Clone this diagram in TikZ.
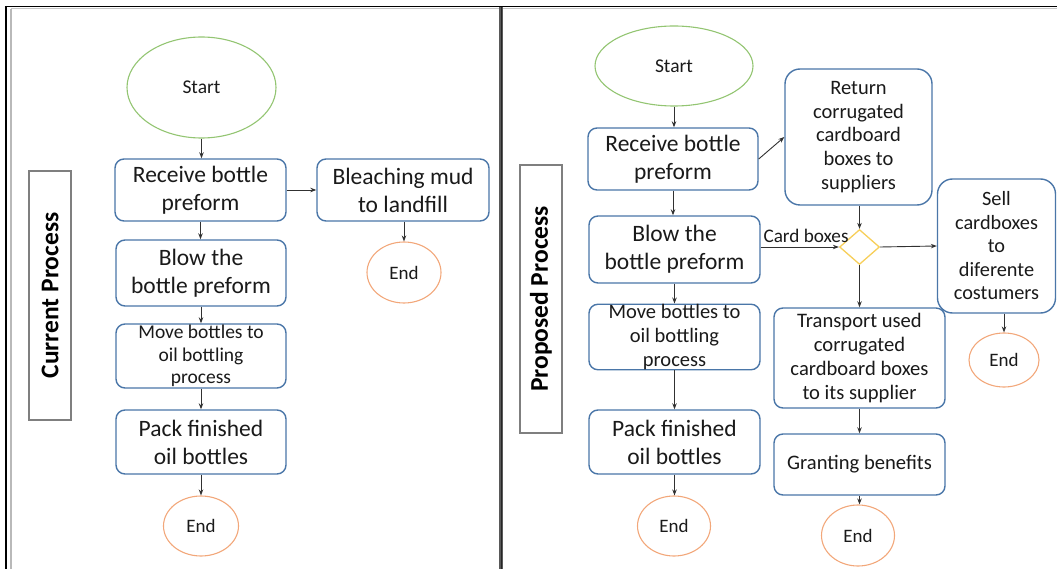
\documentclass[tikz,border=0pt]{standalone}
\usepackage{fontspec}
\setmainfont{Carlito}
\usetikzlibrary{shapes.geometric,arrows.meta}

\definecolor{boxblue}{HTML}{4A76A8}
\definecolor{startgreen}{HTML}{93C572}
\definecolor{endorange}{HTML}{F2A77A}
\definecolor{decyellow}{HTML}{F7CF5A}
\definecolor{tagframe}{HTML}{7F7F7F}
\definecolor{inkgrey}{HTML}{1A1A1A}

\tikzset{
  box/.style={draw=boxblue, line width=1.4pt, rounded corners=9pt, fill=white,
    inner sep=0pt, align=center, text=inkgrey,
    font=\fontsize{23.5}{28}\selectfont},
  tallbox/.style={box, rounded corners=15pt, font=\fontsize{20.5}{23.7}\selectfont},
  wh/.style 2 args={minimum width=#1, minimum height=#2},
  startnode/.style={ellipse, draw=startgreen, line width=1.1pt, inner sep=0pt,
    text=inkgrey, font=\fontsize{19.5}{23}\selectfont},
  endnode/.style={ellipse, draw=endorange, line width=1.1pt, inner sep=0pt,
    text=inkgrey, font=\fontsize{19}{23}\selectfont},
  decision/.style={diamond, draw=decyellow, line width=1.3pt, fill=white, inner sep=0pt},
  tag/.style={draw=tagframe, line width=1.3pt, inner sep=0pt},
  tagtext/.style={rotate=90, font=\fontsize{25.5}{30}\selectfont\bfseries, text=black},
  arr/.style={draw=inkgrey!90, line width=0.9pt, -{Stealth[length=6pt,width=4.5pt]}},
  edgelabel/.style={font=\fontsize{19.2}{22}\selectfont, text=inkgrey, inner sep=1pt}
}

\begin{document}
\begin{tikzpicture}[x=1pt, y=-1pt]
\useasboundingbox (0,0) rectangle (1057,569);

% page frame and panel divider
\draw[black, line width=1.8pt] (5.8,6) -- (5.8,569);
\draw[black, line width=1.8pt] (4.9,6.6) -- (1057,6.6);
\draw[gray!55, line width=1.4pt] (10.8,8.6) -- (10.8,569);
\draw[gray!45, line width=0.8pt] (10.8,8.6) -- (1057,8.6);
\draw[gray!70!black, line width=3.6pt] (501,7) -- (501,569);
\draw[black!85, line width=1pt] (501,7) -- (501,569);

% ---------- current process ----------
\node[tag, wh={42}{249}] (tagL) at (50,295.5) {};
\node[tagtext] (tagLt) at (tagL.center) {Current Process};

\node[startnode, wh={149}{101}] (startL) at (201.5,87.5) {Start};
\node[box, wh={171}{62}] (recvL) at (200.5,190) {Receive bottle\\preform};
\node[box, wh={172}{62}] (bleach) at (403,190) {Bleaching mud\\to landfill};
\node[box, wh={170}{66}] (blowL) at (201,273) {Blow the\\bottle preform};
\node[box, wh={170}{64}, font=\fontsize{19.5}{22.5}\selectfont] (moveL) at (201,356) {Move bottles to\\oil bottling\\process};
\node[box, wh={170}{64}] (packL) at (201,442) {Pack finished\\oil bottles};
\node[endnode, wh={75}{60}] (endL) at (201,526) {End};
\node[endnode, wh={74}{61}] (endB) at (404,272.5) {End};

\draw[arr] (startL.south) -- (startL.south |- recvL.north);
\draw[arr] (recvL.east) -- (bleach.west);
\draw[arr] (recvL.south) -- (recvL.south |- blowL.north);
\draw[arr] (blowL.south) -- (blowL.south |- moveL.north);
\draw[arr] (moveL.south) -- (moveL.south |- packL.north);
\draw[arr] (packL.south) -- (packL.south |- endL.north);
\draw[arr] (endB.north |- bleach.south) -- (endB.north);

% ---------- proposed process ----------
\node[tag, wh={42}{268}] (tagR) at (541,299) {};
\node[tagtext] (tagRt) at (tagR.center) {Proposed Process};

\node[startnode, wh={158}{80}] (startR) at (674,66) {Start};
\node[box, wh={170}{62}] (recvR) at (673,159) {Receive bottle\\preform};
\node[box, wh={171}{67}] (blowR) at (674.5,249.5) {Blow the\\bottle preform};
\node[box, wh={171}{64}, font=\fontsize{20.5}{24}\selectfont] (moveR) at (674.5,337) {Move bottles to\\oil bottling\\process};
\node[box, wh={171}{64}] (packR) at (674.5,442) {Pack finished\\oil bottles};
\node[endnode, wh={73}{60}] (endR) at (674,526) {End};

\node[tallbox, wh={147}{136}] (ret) at (858.5,137) {Return\\corrugated\\cardboard\\boxes to\\suppliers};
\node[decision, wh={40}{35}] (dia) at (859.5,247) {};
\node[tallbox, wh={118}{134}, font=\fontsize{20.3}{23.5}\selectfont] (sell) at (996.5,246) {Sell\\cardboxes\\to\\diferente\\costumers};
\node[endnode, wh={70}{54}] (endS) at (1004,360) {End};
\node[box, wh={171}{100}, font=\fontsize{20.6}{23.7}\selectfont] (trans) at (859.5,358) {Transport used\\corrugated\\cardboard boxes\\to its supplier};
\node[box, wh={171}{61}, font=\fontsize{20.6}{23.7}\selectfont] (grant) at (859.5,464.5) {Granting benefits};
\node[endnode, wh={73}{61}] (endG) at (858,535.5) {End};

\draw[arr] (startR.south) -- (startR.south |- recvR.north);
\draw[arr] (recvR.south) -- (recvR.south |- blowR.north);
\draw[arr] (blowR.south) -- (blowR.south |- moveR.north);
\draw[arr] (moveR.south) -- (moveR.south |- packR.north);
\draw[arr] (packR.south) -- (packR.south |- endR.north);
\draw[arr] (recvR.east) -- (ret.west);
\draw[arr] (dia.north |- ret.south) -- (dia.north);
\draw[arr] (blowR.east |- dia.west) -- node[edgelabel, above, pos=0.58, yshift=3pt] (cbl) {Card boxes} (dia.west);
\draw[arr] (dia.east) -- (sell.west);
\draw[arr] (dia.south) -- (dia.south |- trans.north);
\draw[arr] (endS.north |- sell.south) -- (endS.north);
\draw[arr] (grant.south) -- (grant.south |- endG.north);
\draw[arr] (trans.south) -- (trans.south |- grant.north);
\end{tikzpicture}
\end{document}
